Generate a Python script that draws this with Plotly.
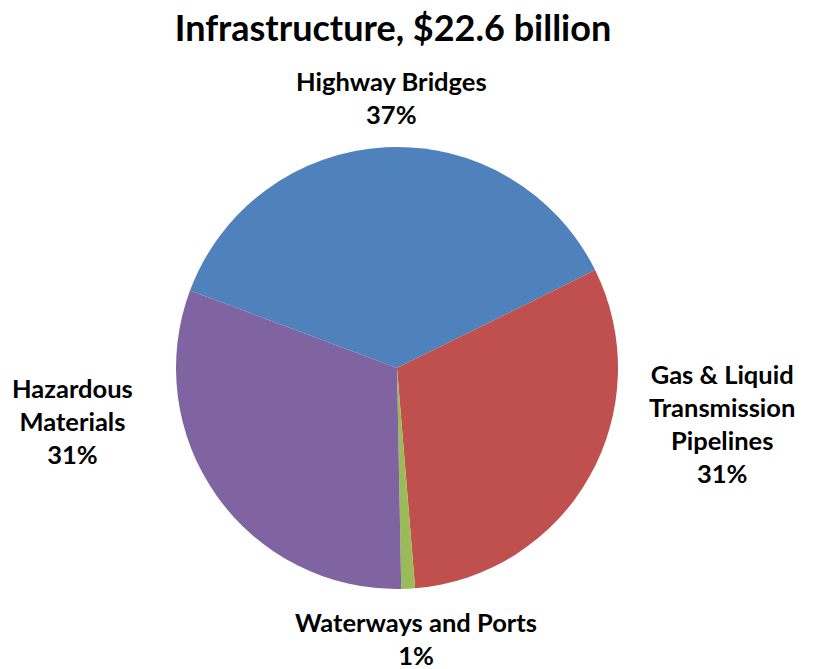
import plotly.graph_objects as go

# Infrastructure spending by sector
title_text = "Infrastructure, $22.6 billion"
sectors = ["Highway Bridges", "Gas & Liquid Transmission Pipelines", "Waterways and Ports", "Hazardous Materials"]
label_lines = ["Highway Bridges", "Gas & Liquid<br>Transmission<br>Pipelines", "Waterways and Ports", "Hazardous<br>Materials"]
shares = [37, 31, 1, 31]
colors = ["#4F81BD", "#C0504D", "#9BBB59", "#8064A2"]

W, H = 817, 669
FONT = "Lato"

fig = go.Figure(
    go.Pie(
        labels=sectors,
        values=shares,
        sort=False,
        direction="clockwise",
        rotation=-69.5,
        marker=dict(colors=colors, line=dict(width=0)),
        textinfo="none",
        hoverinfo="label+percent",
        showlegend=False,
        domain=dict(x=[176 / W, 618 / W], y=[1 - 589 / H, 1 - 147 / H]),
    )
)

# outside data labels: name on top, share below
total = sum(shares)
label_pos = [(391, 97), (722, 423), (416, 638), (72, 421)]
for name, val, (px, py) in zip(label_lines, shares, label_pos):
    fig.add_annotation(
        x=px / W, y=1 - py / H, xref="paper", yref="paper",
        text=f"<b>{name}<br>{round(100 * val / total)}%</b>",
        showarrow=False, xanchor="center", yanchor="middle", align="center",
        font=dict(family=FONT, size=25.5, color="#000000"),
    )

fig.update_layout(
    width=W, height=H,
    margin=dict(l=0, r=0, t=0, b=0),
    paper_bgcolor="white",
    plot_bgcolor="white",
    title=dict(
        text=f"<b>{title_text}</b>",
        x=393 / W, y=1 - 28 / H, xanchor="center", yanchor="middle",
        font=dict(family=FONT, size=36, color="#000000"),
    ),
)

fig.write_html("out.html")
